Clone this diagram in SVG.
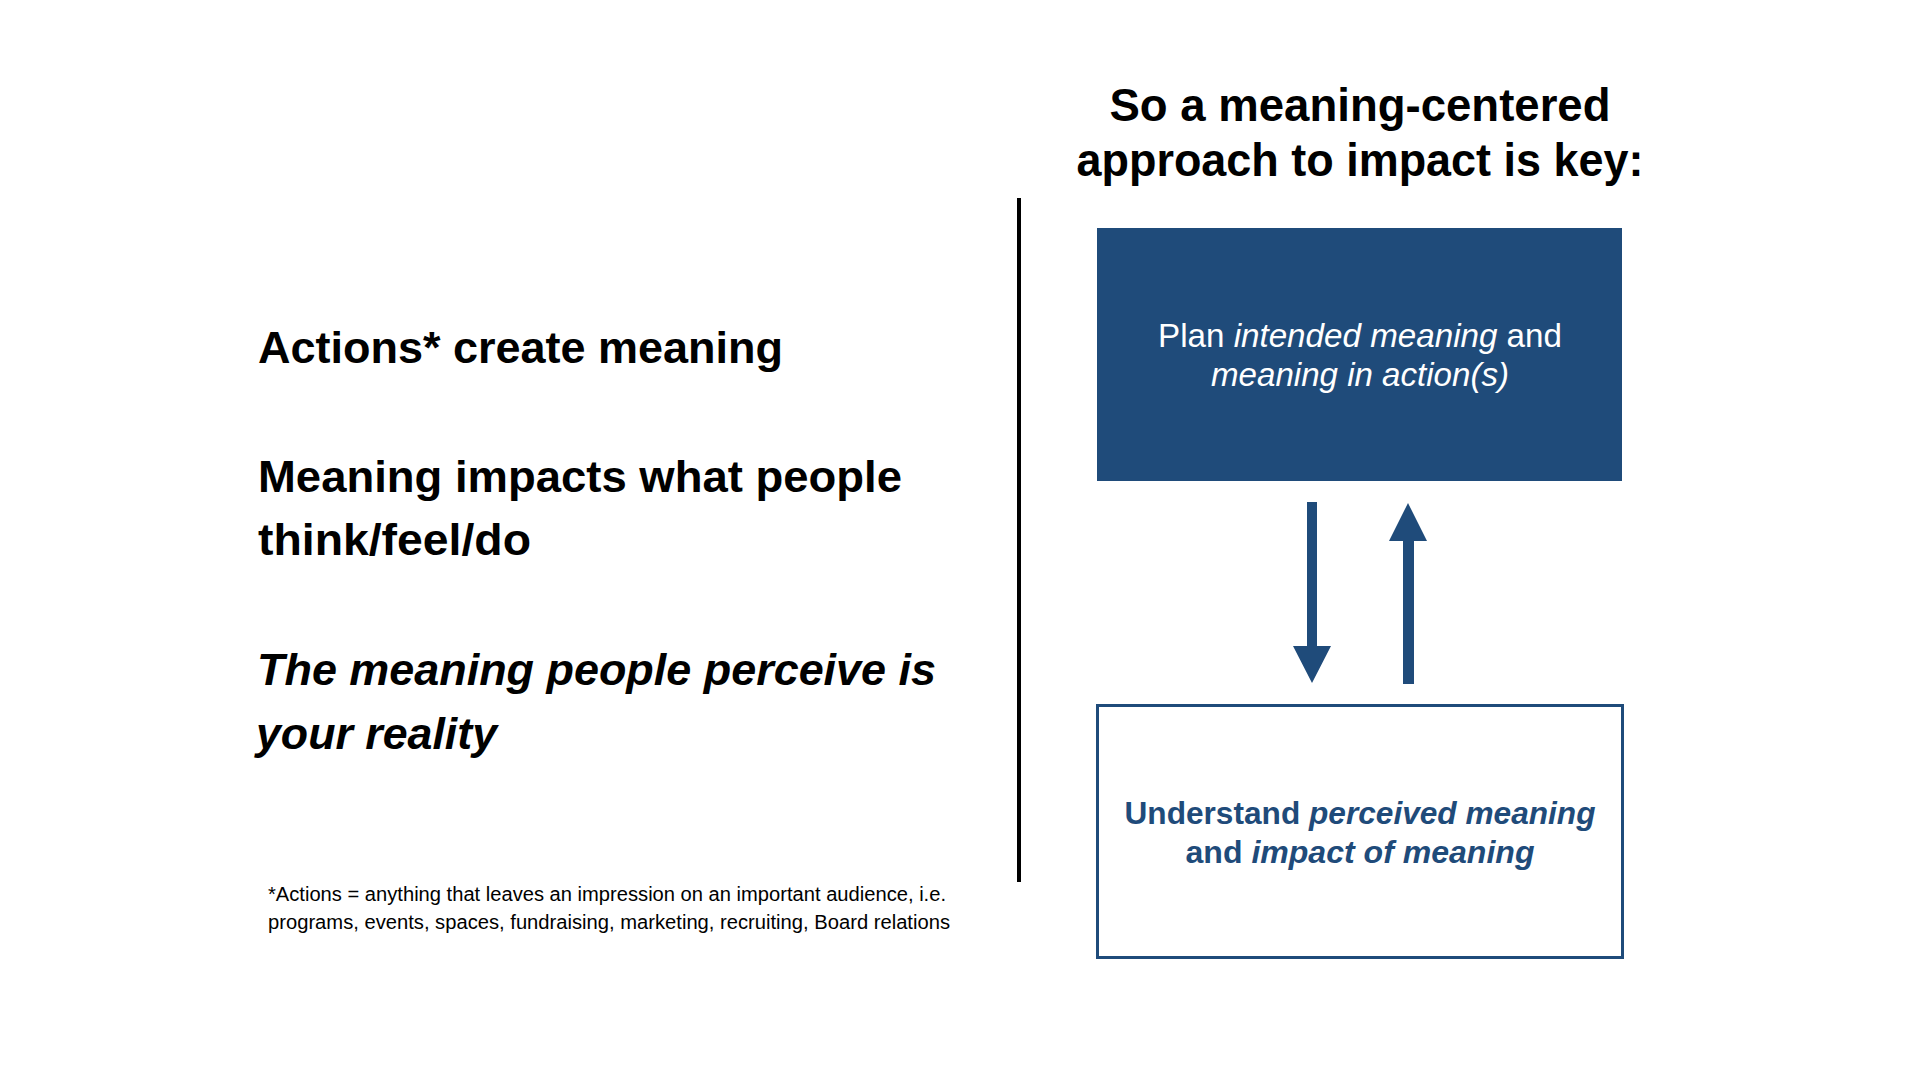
<svg xmlns="http://www.w3.org/2000/svg" width="1920" height="1080" viewBox="0 0 1920 1080">
<style>
.t{font-family:"Liberation Sans",Arial,sans-serif;}
.i{font-style:italic;}
.big{font-size:45px;fill:#000;font-weight:bold;}
.title{font-size:47px;fill:#000;font-weight:bold;}
.foot{font-size:20px;fill:#000;}
.wt{font-size:33px;fill:#fff;}
.bt{font-size:32px;fill:#1f4b7a;font-weight:bold;}
.arrow{fill:#1f4b7a;}
</style>
<rect width="1920" height="1080" fill="#fff"/>
<g id="left-text">
<text class="t big" x="258" y="363" textLength="525" lengthAdjust="spacingAndGlyphs">Actions* create meaning</text>
<text class="t big" x="258" y="492" textLength="644" lengthAdjust="spacingAndGlyphs">Meaning impacts what people</text>
<text class="t big" x="258" y="555" textLength="273" lengthAdjust="spacingAndGlyphs">think/feel/do</text>
<text class="t big i" x="257" y="685" textLength="679" lengthAdjust="spacingAndGlyphs">The meaning people perceive is</text>
<text class="t big i" x="256" y="749" textLength="241" lengthAdjust="spacingAndGlyphs">your reality</text>
</g>
<g id="footnote">
<text class="t foot" x="268" y="901" textLength="678" lengthAdjust="spacingAndGlyphs">*Actions = anything that leaves an impression on an important audience, i.e.</text>
<text class="t foot" x="268" y="929" textLength="682" lengthAdjust="spacingAndGlyphs">programs, events, spaces, fundraising, marketing, recruiting, Board relations</text>
</g>
<line id="divider" x1="1019" y1="198" x2="1019" y2="882" stroke="#000" stroke-width="4"/>
<g id="title">
<text class="t title" x="1360" y="121" text-anchor="middle" textLength="501" lengthAdjust="spacingAndGlyphs">So a meaning-centered</text>
<text class="t title" x="1360" y="176" text-anchor="middle" textLength="567" lengthAdjust="spacingAndGlyphs">approach to impact is key:</text>
</g>
<g id="plan">
<rect x="1097" y="228" width="525" height="253" fill="#1f4b7a"/>
<text class="t wt" x="1360" y="347" text-anchor="middle" textLength="404" lengthAdjust="spacingAndGlyphs">Plan <tspan class="i">intended meaning</tspan> and</text>
<text class="t wt i" x="1360" y="386" text-anchor="middle" textLength="298" lengthAdjust="spacingAndGlyphs">meaning in action(s)</text>
</g>
<g id="understand">
<rect x="1097.5" y="705.5" width="525" height="252" fill="#fff" stroke="#1f4b7a" stroke-width="3"/>
<text class="t bt" x="1360" y="824" text-anchor="middle" textLength="471" lengthAdjust="spacingAndGlyphs">Understand <tspan class="i">perceived meaning</tspan></text>
<text class="t bt" x="1360" y="863" text-anchor="middle" textLength="349" lengthAdjust="spacingAndGlyphs">and <tspan class="i">impact of meaning</tspan></text>
</g>
<g id="connectors">
<polygon class="arrow" points="1307,502 1317,502 1317,646 1331,646 1312,683 1293,646 1307,646"/>
<polygon class="arrow" points="1408,503 1427,541 1414,541 1414,684 1403,684 1403,541 1389,541"/>
</g>
</svg>
